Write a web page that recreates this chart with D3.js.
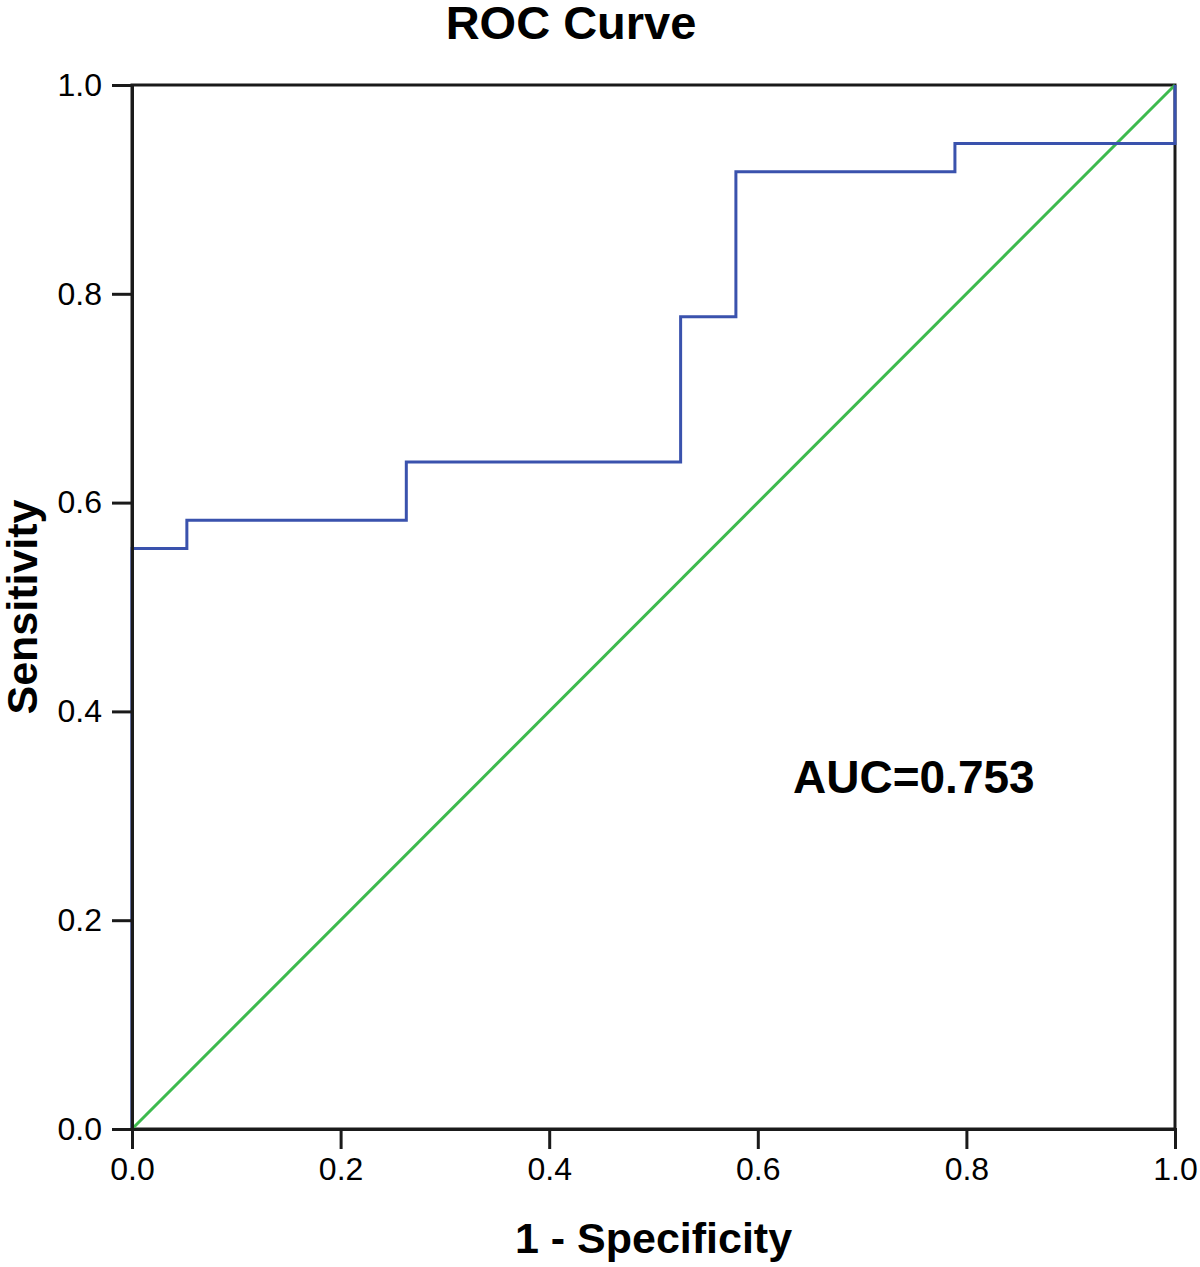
<!DOCTYPE html>
<html>
<head>
<meta charset="utf-8">
<script src="https://cdn.jsdelivr.net/npm/d3@7"></script>
<style>
  body { margin: 0; background: #fff; }
  svg text { font-family: "Liberation Sans", Arial, sans-serif; fill: #000; }
</style>
</head>
<body>
<div class="chart"></div>
<script>
// ROC step curve (1 - specificity, sensitivity)
var fpr = [0, 0, 0.0526, 0.0526, 0.263, 0.263, 0.526, 0.526, 0.579, 0.579, 0.789, 0.789, 1.0, 1.0];
var tpr = [0, 0.556, 0.556, 0.583, 0.583, 0.639, 0.639, 0.778, 0.778, 0.917, 0.917, 0.944, 0.944, 1.0];
var refLine = [[0, 0], [1, 1]];
var tickValues = [0, 0.2, 0.4, 0.6, 0.8, 1.0];
var aucLabel = "AUC=0.753";

var width = 1200, height = 1267;
var margin = {top: 85, right: 25, bottom: 138, left: 132};

var svg = d3.select('.chart')
  .append('svg')
  .attr('width', width)
  .attr('height', height);

var x = d3.scaleLinear().domain([0, 1]).range([margin.left, width - margin.right]);
var y = d3.scaleLinear().domain([0, 1]).range([height - margin.bottom, margin.top]);

// frame (top/right edges)
svg.append('rect')
  .attr('x', x(0)).attr('y', y(1))
  .attr('width', x(1) - x(0)).attr('height', y(0) - y(1))
  .attr('fill', 'none')
  .attr('stroke', '#1a1a1a')
  .attr('stroke-width', 3);

var line = d3.line()
  .x(function (d) { return x(d[0]); })
  .y(function (d) { return y(d[1]); });

// reference diagonal
svg.append('path')
  .datum(refLine)
  .attr('d', line)
  .attr('fill', 'none')
  .attr('stroke', '#3dba4e')
  .attr('stroke-width', 3);

// ROC curve
var pts = fpr.map(function (v, i) { return [v, tpr[i]]; });
svg.append('path')
  .datum(pts)
  .attr('d', line)
  .attr('fill', 'none')
  .attr('stroke', '#3a52ad')
  .attr('stroke-width', 3);

// axes drawn on top so the left/bottom edges stay black
var xAxis = svg.append('g')
  .attr('transform', 'translate(0,' + y(0) + ')')
  .call(d3.axisBottom(x).tickValues(tickValues).tickFormat(d3.format('.1f')).tickSize(20).tickPadding(8));
var yAxis = svg.append('g')
  .attr('transform', 'translate(' + x(0) + ',0)')
  .call(d3.axisLeft(y).tickValues(tickValues).tickFormat(d3.format('.1f')).tickSize(20).tickPadding(10));

[xAxis, yAxis].forEach(function (g) {
  g.select('.domain').attr('stroke', '#1a1a1a').attr('stroke-width', 3);
  g.selectAll('.tick line').attr('stroke', '#1a1a1a').attr('stroke-width', 3);
  g.selectAll('.tick text').attr('font-size', 32).attr('fill', '#000')
    .style('font-family', '"Liberation Sans", Arial, sans-serif');
});

// titles
svg.append('text')
  .attr('x', 571).attr('y', 39)
  .attr('text-anchor', 'middle')
  .attr('font-size', 47).attr('font-weight', 'bold')
  .text('ROC Curve');

svg.append('text')
  .attr('x', x(0.5)).attr('y', 1253)
  .attr('text-anchor', 'middle')
  .attr('font-size', 43).attr('font-weight', 'bold')
  .text('1 - Specificity');

svg.append('text')
  .attr('transform', 'translate(37,' + y(0.5) + ') rotate(-90)')
  .attr('text-anchor', 'middle')
  .attr('font-size', 43).attr('font-weight', 'bold')
  .text('Sensitivity');

svg.append('text')
  .attr('x', 793).attr('y', 793)
  .attr('font-size', 46).attr('font-weight', 'bold')
  .text(aucLabel);
</script>
</body>
</html>
